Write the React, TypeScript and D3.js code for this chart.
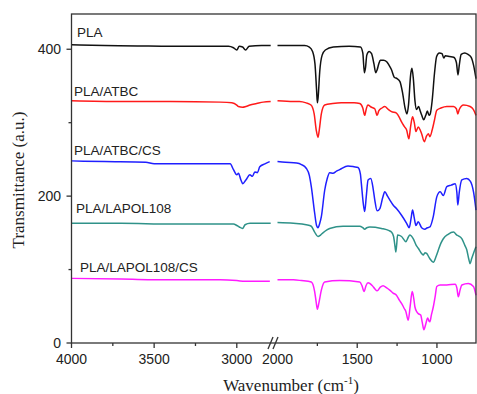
import React from "react";
import * as d3 from "d3";

// FTIR spectra, values (wavenumber cm-1, transmittance a.u.)
const plaLeft: [number, number][] = [
  [4000, 406], [3800, 405], [3600, 404.5], [3400, 404], [3200, 404], [3050, 404], [3020, 402],
  [3000, 399], [2985, 404], [2965, 403], [2947, 399], [2925, 404], [2850, 405], [2795, 405],
];
const plaRight: [number, number][] = [
  [2000, 405], [1900, 405], [1830, 405], [1800, 403], [1780, 397], [1765, 380], [1755, 345],
  [1750, 327], [1745, 335], [1735, 370], [1720, 392], [1700, 399], [1650, 403], [1550, 404],
  [1480, 403], [1465, 395], [1455, 368], [1448, 375], [1440, 392], [1425, 397], [1410, 394],
  [1395, 380], [1384, 368], [1375, 372], [1365, 380], [1355, 385], [1335, 385], [1315, 383],
  [1300, 378], [1285, 372], [1268, 362], [1250, 360], [1232, 356], [1215, 340], [1200, 320],
  [1188, 312], [1178, 325], [1165, 365], [1157, 374], [1148, 360], [1138, 330], [1128, 318],
  [1115, 322], [1105, 316], [1095, 310], [1083, 304], [1070, 310], [1060, 316], [1050, 310],
  [1042, 312], [1030, 330], [1015, 368], [1002, 390], [985, 395], [968, 394], [957, 388],
  [948, 391], [920, 390], [895, 389], [878, 382], [868, 365], [860, 378], [848, 393],
  [825, 395], [805, 393], [785, 389], [770, 378], [755, 360],
];

const atbcLeft: [number, number][] = [
  [4000, 330], [3700, 329], [3400, 329], [3100, 328], [3030, 327], [3000, 324], [2990, 322],
  [2965, 321], [2945, 322], [2920, 324], [2880, 326], [2840, 328], [2795, 329],
];
const atbcRight: [number, number][] = [
  [2000, 330], [1900, 329], [1862, 329], [1820, 327], [1790, 324], [1770, 312], [1757, 290],
  [1746, 280], [1738, 290], [1725, 312], [1704, 324], [1654, 326], [1600, 327], [1520, 327],
  [1484, 326], [1465, 320], [1453, 310], [1444, 318], [1434, 324], [1410, 321], [1390, 319],
  [1375, 310], [1365, 316], [1345, 320], [1327, 322], [1305, 318], [1285, 315], [1254, 313],
  [1235, 307], [1222, 301], [1205, 295], [1190, 290], [1176, 278], [1165, 295], [1153, 308],
  [1142, 300], [1132, 288], [1117, 294], [1105, 290], [1096, 285], [1079, 274], [1065, 282],
  [1054, 285], [1044, 281], [1030, 290], [1016, 303], [1001, 317], [975, 320], [938, 322],
  [896, 322], [878, 319], [869, 312], [860, 318], [833, 324], [792, 322], [772, 318], [755, 310],
];

const atbcCsLeft: [number, number][] = [
  [4000, 248], [3800, 247], [3550, 246], [3500, 244], [3300, 244], [3100, 244], [3040, 244],
  [3020, 236], [3000, 229], [2990, 231], [2975, 222], [2964, 217], [2945, 222], [2921, 229],
  [2905, 227], [2891, 233], [2875, 232], [2861, 240], [2830, 244], [2801, 247],
];
const atbcCsRight: [number, number][] = [
  [2000, 247], [1950, 246], [1880, 245], [1850, 243], [1820, 238], [1800, 228], [1788, 213],
  [1767, 177], [1755, 160], [1746, 157], [1735, 163], [1725, 172], [1704, 208], [1688, 224],
  [1673, 232], [1652, 231], [1630, 234], [1610, 236], [1558, 241], [1520, 240], [1495, 239],
  [1480, 230], [1474, 217], [1462, 190], [1453, 179], [1443, 200], [1432, 222], [1415, 224],
  [1400, 210], [1390, 195], [1375, 180], [1358, 183], [1340, 198], [1327, 206], [1310, 200],
  [1296, 195], [1275, 188], [1254, 183], [1222, 174], [1190, 163], [1174, 157], [1162, 170],
  [1153, 181], [1142, 170], [1132, 160], [1117, 165], [1096, 157], [1076, 155], [1060, 157],
  [1044, 158], [1023, 172], [1001, 199], [980, 206], [960, 201], [938, 213], [910, 215],
  [886, 217], [875, 205], [869, 188], [860, 205], [844, 222], [813, 224], [790, 220],
  [770, 205], [755, 181],
];

const lapolLeft: [number, number][] = [
  [4000, 163], [3700, 163], [3400, 162], [3100, 162], [3020, 162], [3000, 160], [2985, 158],
  [2965, 156], [2950, 161], [2920, 163], [2850, 163], [2795, 163],
];
const lapolRight: [number, number][] = [
  [2000, 164], [1900, 163], [1820, 161], [1788, 159], [1767, 151], [1746, 145], [1730, 147],
  [1715, 150], [1690, 154], [1673, 156], [1589, 159], [1484, 159], [1465, 157], [1453, 155],
  [1440, 157], [1421, 158], [1348, 156], [1300, 153], [1285, 151], [1272, 145], [1262, 130],
  [1258, 124], [1252, 135], [1247, 147], [1222, 145], [1195, 138], [1180, 144], [1170, 147],
  [1149, 142], [1130, 133], [1117, 129], [1100, 123], [1086, 120], [1075, 123], [1065, 122],
  [1045, 115], [1023, 110], [1005, 118], [992, 126], [975, 136], [960, 142], [930, 148],
  [896, 151], [875, 147], [866, 146], [844, 142], [825, 133], [813, 127], [800, 114],
  [792, 108], [782, 115], [771, 122], [755, 131],
];

const lapolCsLeft: [number, number][] = [
  [4000, 88], [3700, 87], [3400, 86], [3100, 86], [3000, 85], [2950, 84], [2800, 84],
];
const lapolCsRight: [number, number][] = [
  [2000, 86], [1900, 86], [1850, 85], [1788, 83], [1767, 70], [1757, 55], [1750, 46],
  [1740, 55], [1725, 72], [1704, 83], [1610, 85], [1484, 83], [1470, 78], [1457, 70],
  [1445, 78], [1432, 82], [1405, 78], [1390, 74], [1375, 71], [1355, 76], [1338, 78],
  [1315, 75], [1296, 72], [1275, 68], [1254, 65], [1235, 58], [1222, 54], [1205, 47],
  [1195, 43], [1180, 31], [1168, 50], [1155, 70], [1145, 60], [1138, 49], [1125, 42],
  [1117, 40], [1102, 38], [1092, 28], [1082, 18], [1070, 26], [1058, 34], [1050, 30],
  [1044, 29], [1035, 38], [1023, 49], [1010, 65], [1001, 77], [980, 79], [960, 79],
  [938, 79], [886, 80], [875, 75], [866, 63], [855, 72], [844, 79], [803, 81], [771, 77],
  [755, 65],
];

const seriesNames = ["PLA", "PLA/ATBC", "PLA/ATBC/CS", "PLA/LAPOL108", "PLA/LAPOL108/CS"];
const seriesColors = ["#111111", "#ff1a1a", "#1f1fff", "#2f9289", "#ff1aff"];
const seriesData = [
  [plaLeft, plaRight],
  [atbcLeft, atbcRight],
  [atbcCsLeft, atbcCsRight],
  [lapolLeft, lapolRight],
  [lapolCsLeft, lapolCsRight],
];
const labelPos = [
  [77, 37], [74, 96], [74, 155], [76, 213], [80, 272],
];

const xTicksLeft = [4000, 3500, 3000];
const xMinorLeft = [3750, 3250];
const xTicksRight = [2000, 1500, 1000];
const xMinorRight = [1750, 1250];
const yTicks = [0, 200, 400];
const yMinor = [100, 300];

const width = 477;
const height = 394;
const frame = { left: 71.5, top: 14, right: 476, bottom: 343 };

export default function App() {
  const xLeft = d3.scaleLinear().domain([4000, 2790]).range([frame.left, 271.5]);
  const xRight = d3.scaleLinear().domain([2000, 755]).range([277.5, frame.right]);
  const y = d3.scaleLinear().domain([0, 448]).range([frame.bottom, frame.top]);

  const lineL = d3.line<[number, number]>().x((d) => xLeft(d[0])).y((d) => y(d[1])).curve(d3.curveMonotoneX);
  const lineR = d3.line<[number, number]>().x((d) => xRight(d[0])).y((d) => y(d[1])).curve(d3.curveMonotoneX);

  const sans = "'Liberation Sans', Arial, sans-serif";
  const serif = "'Liberation Serif', 'Times New Roman', serif";
  const axisColor = "#333";

  return (
    <svg width={width} height={height} style={{ position: "absolute", left: 0, top: 0 }}>
      <rect x={0} y={0} width={width} height={height} fill="#fff" />
      {seriesData.map((segs, i) => (
        <g key={seriesNames[i]} fill="none" stroke={seriesColors[i]} strokeWidth={1.5}>
          <path d={lineL(segs[0]) || ""} />
          <path d={lineR(segs[1]) || ""} />
        </g>
      ))}
      {seriesNames.map((n, i) => (
        <text key={n} x={labelPos[i][0]} y={labelPos[i][1]} fontFamily={sans} fontSize={13.5} fill="#222">
          {n}
        </text>
      ))}
      {/* frame */}
      <rect
        x={frame.left}
        y={frame.top}
        width={frame.right - frame.left}
        height={frame.bottom - frame.top}
        fill="none"
        stroke={axisColor}
        strokeWidth={1.3}
      />
      {/* y ticks */}
      {yTicks.map((t) => (
        <g key={t}>
          <line x1={frame.left - 5} x2={frame.left} y1={y(t)} y2={y(t)} stroke={axisColor} strokeWidth={1.3} />
          <text x={61} y={y(t)} dy="0.36em" textAnchor="end" fontFamily={sans} fontSize={14} fill="#222">
            {t}
          </text>
        </g>
      ))}
      {yMinor.map((t) => (
        <line key={t} x1={frame.left - 3} x2={frame.left} y1={y(t)} y2={y(t)} stroke={axisColor} strokeWidth={1.3} />
      ))}
      {/* x ticks */}
      {xTicksLeft.map((t) => (
        <g key={t}>
          <line x1={xLeft(t)} x2={xLeft(t)} y1={frame.bottom} y2={frame.bottom + 5} stroke={axisColor} strokeWidth={1.3} />
          <text x={xLeft(t)} y={364} textAnchor="middle" fontFamily={sans} fontSize={14} fill="#222">
            {t}
          </text>
        </g>
      ))}
      {xMinorLeft.map((t) => (
        <line key={t} x1={xLeft(t)} x2={xLeft(t)} y1={frame.bottom} y2={frame.bottom + 3} stroke={axisColor} strokeWidth={1.3} />
      ))}
      {xTicksRight.map((t) => (
        <g key={t}>
          {t !== 2000 && (
            <line x1={xRight(t)} x2={xRight(t)} y1={frame.bottom} y2={frame.bottom + 5} stroke={axisColor} strokeWidth={1.3} />
          )}
          <text x={xRight(t)} y={364} textAnchor="middle" fontFamily={sans} fontSize={14} fill="#222">
            {t}
          </text>
        </g>
      ))}
      {xMinorRight.map((t) => (
        <line key={t} x1={xRight(t)} x2={xRight(t)} y1={frame.bottom} y2={frame.bottom + 3} stroke={axisColor} strokeWidth={1.3} />
      ))}
      {/* axis break */}
      <g stroke={axisColor} strokeWidth={1.3}>
        <line x1={268} y1={349} x2={273} y2={337} />
        <line x1={273} y1={349} x2={278} y2={337} />
      </g>
      {/* axis titles */}
      <text
        transform={`translate(24,180) rotate(-90)`}
        textAnchor="middle"
        fontFamily={serif}
        fontSize={17}
        fill="#222"
      >
        Transmittance (a.u.)
      </text>
      <text x={291} y={391} textAnchor="middle" fontFamily={serif} fontSize={17} fill="#222">
        Wavenumber (cm
        <tspan fontSize={11} dy={-7}>-1</tspan>
        <tspan dy={7}>)</tspan>
      </text>
    </svg>
  );
}
